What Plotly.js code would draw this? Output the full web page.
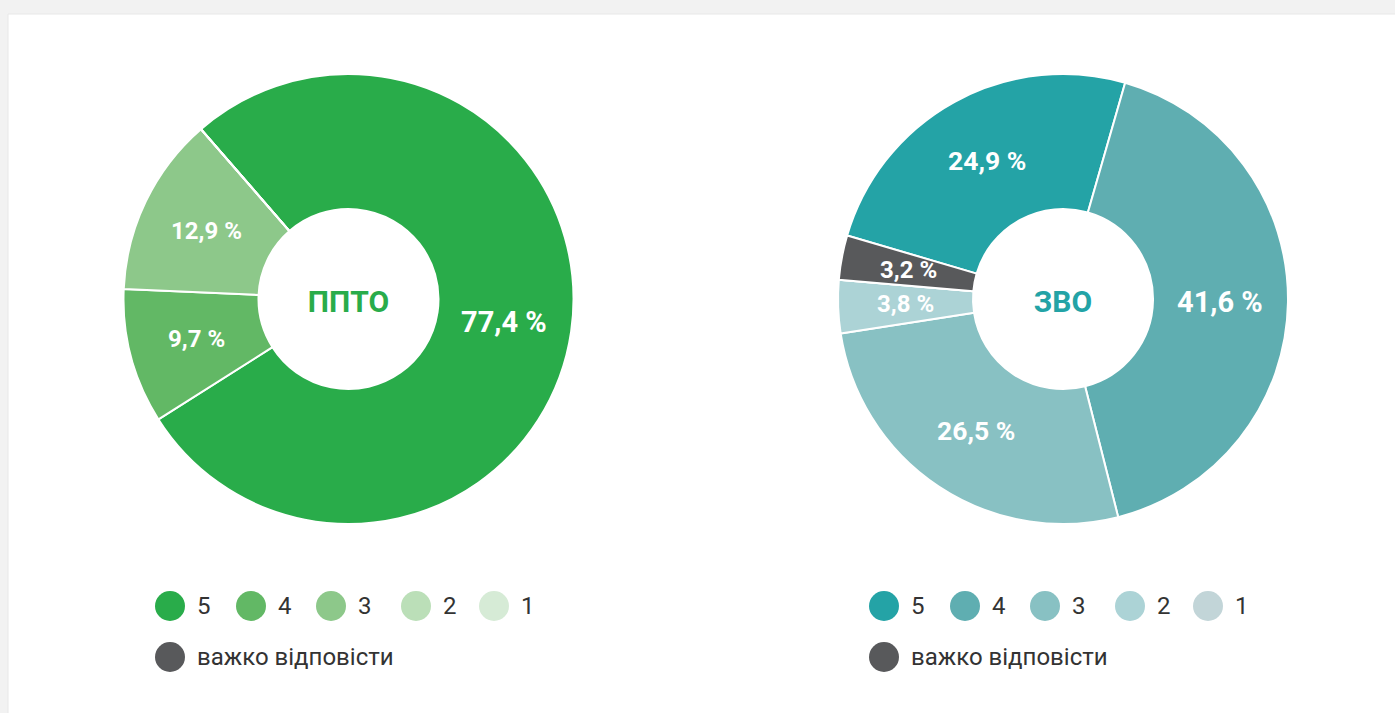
<!DOCTYPE html>
<html>
<head>
<meta charset="utf-8">
<script src="https://cdn.plot.ly/plotly-3.0.1.min.js"></script>
<style>html,body{margin:0;padding:0;background:#f2f2f2;}#chart{width:1395px;height:713px;}</style>
</head>
<body>
<div id="chart"></div>
<script>
// ---- data ----
const categories = ['5', '4', '3', '2', '1', 'важко відповісти'];
const pptoValues = [77.4, 9.7, 12.9, 0, 0, 0];
const zvoValues = [24.9, 41.6, 26.5, 3.8, 0, 3.2];
const pptoTitle = 'ППТО';
const zvoTitle = 'ЗВО';
const pptoColors = ['#29ac4a', '#62b865', '#8dc88a', '#bbdfb8', '#d6ebd6', '#58595b'];
const zvoColors = ['#24a3a6', '#5faeb1', '#88c1c3', '#acd3d6', '#c2d5d8', '#58595b'];
const pptoTextSizes = [29, 24, 24, 24, 24, 24];
const zvoTextSizes = [26.5, 29, 26.5, 24, 24, 24];

const W = 1395, H = 713;
const fmt = v => (v > 0 ? v.toFixed(1).replace('.', ',') + ' %' : '');

// pie geometry (pixels)
const R = 225, HOLE = 0.4;
const pies = [
  {values: pptoValues, colors: pptoColors, sizes: pptoTextSizes, title: pptoTitle, titleColor: '#29ac4a', cx: 348.5, cy: 299, rotation: -41},
  {values: zvoValues, colors: zvoColors, sizes: zvoTextSizes, title: zvoTitle, titleColor: '#23a3a6', cx: 1063, cy: 299, rotation: -73.6}
];

const annotations = [];
const traces = pies.map(p => {
  // slice labels placed at the centre of each slice, computed from the values
  const total = p.values.reduce((a, b) => a + b, 0);
  let ang = p.rotation;
  const rMid = R * (1 + HOLE) / 2;
  p.values.forEach((v, i) => {
    const sweep = 360 * v / total;
    const mid = (ang + sweep / 2) * Math.PI / 180;
    ang += sweep;
    if (v <= 0) return;
    annotations.push({
      xref: 'paper', yref: 'paper',
      x: (p.cx + rMid * Math.sin(mid)) / W,
      y: (H - (p.cy - rMid * Math.cos(mid))) / H,
      xanchor: 'center', yanchor: 'middle', showarrow: false,
      text: fmt(v),
      font: {family: 'Roboto', size: p.sizes[i], color: '#ffffff', weight: 'bold'}
    });
  });
  return {
    type: 'pie',
    labels: categories,
    values: p.values,
    textinfo: 'none',
    hole: HOLE,
    sort: false,
    direction: 'clockwise',
    rotation: p.rotation,
    showlegend: false,
    marker: {colors: p.colors, line: {color: '#ffffff', width: 2}},
    title: {text: p.title, position: 'middle center', font: {family: 'Roboto', size: 30, color: p.titleColor, weight: 'bold'}},
    domain: {x: [(p.cx - R) / W, (p.cx + R) / W], y: [(H - p.cy - R) / H, (H - p.cy + R) / H]},
    hoverinfo: 'label+percent'
  };
});

// ---- card background + custom legends (circles + labels) ----
const shapes = [{
  type: 'rect', xref: 'paper', yref: 'paper', layer: 'below',
  x0: 8 / W, x1: 1.02, y0: -0.02, y1: (H - 14) / H,
  fillcolor: '#ffffff', line: {color: '#e8e8e8', width: 1}
}];
const row1Offsets = [0, 81, 161, 246, 324];
function addLegend(colors, x0) {
  const r = 15;
  const items = [];
  for (let i = 0; i < 5; i++) items.push({i: i, cx: x0 + row1Offsets[i], cy: 606});
  items.push({i: 5, cx: x0, cy: 657});
  items.forEach(o => {
    shapes.push({
      type: 'circle', xref: 'paper', yref: 'paper',
      x0: (o.cx - r) / W, x1: (o.cx + r) / W,
      y0: (H - o.cy - r) / H, y1: (H - o.cy + r) / H,
      fillcolor: colors[o.i], line: {width: 0}
    });
    annotations.push({
      xref: 'paper', yref: 'paper', x: (o.cx + r + 10) / W, y: (H - o.cy) / H,
      xanchor: 'left', yanchor: 'middle', showarrow: false,
      text: categories[o.i], font: {family: 'Roboto', size: 24, color: '#333333'}
    });
  });
}
addLegend(pptoColors, 170);
addLegend(zvoColors, 884);

const layout = {
  width: W, height: H,
  margin: {l: 0, r: 0, t: 0, b: 0},
  paper_bgcolor: '#f2f2f2',
  plot_bgcolor: '#ffffff',
  showlegend: false,
  shapes: shapes,
  annotations: annotations,
  font: {family: 'Roboto'}
};

Plotly.newPlot('chart', traces, layout, {displayModeBar: false});
</script>
</body>
</html>
